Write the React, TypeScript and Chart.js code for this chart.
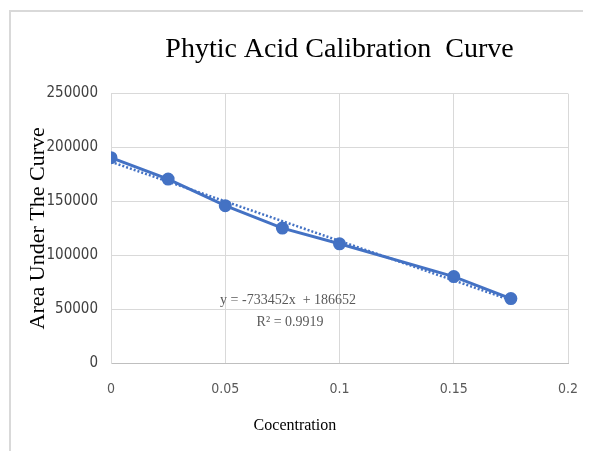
import { useEffect, useRef } from "react";
import { Chart, registerables } from "chart.js";

Chart.register(...registerables);

const concentrations = [0, 0.025, 0.05, 0.075, 0.1, 0.15, 0.175];
const areas = [190500, 170700, 146000, 125200, 110600, 80200, 59800];
const trendSlope = -733452;
const trendIntercept = 186652;
const rSquared = 0.9919;
const xTickValues = [0, 0.05, 0.1, 0.15, 0.2];
const yTickValues = [0, 50000, 100000, 150000, 200000, 250000];

const chartTitle = "Phytic Acid Calibration  Curve";
const xTitle = "Cocentration";
const yTitle = "Area Under The Curve";

const BLUE = "#4472C4";
const SERIF = "'Liberation Serif', 'Times New Roman', serif";
const NARROW = "'Liberation Sans Narrow', 'DejaVu Sans Condensed', 'Roboto', sans-serif";

const textPlugin = {
  id: "extraText",
  afterDatasetsDraw(chart: any) {
    const { ctx, scales } = chart;
    const cx = scales.x.getPixelForValue(0.0775);
    const cy = scales.y.getPixelForValue(58500);
    ctx.save();
    ctx.font = `14px ${SERIF}`;
    ctx.fillStyle = "#595959";
    ctx.textAlign = "center";
    ctx.textBaseline = "middle";
    const eq = `y = ${trendSlope}x  + ${trendIntercept}`;
    ctx.fillText(eq, cx, cy);
    ctx.fillText(`R² = ${rSquared}`, cx + 2, cy + 22);
    // x-axis title (placed left of centre, as in the original)
    ctx.font = `16px ${SERIF}`;
    ctx.fillStyle = "#000000";
    ctx.fillText(xTitle, scales.x.getPixelForValue(0.0805), scales.x.bottom - 25);
    ctx.restore();
  },
};

export default function App() {
  const canvasRef = useRef<HTMLCanvasElement | null>(null);

  useEffect(() => {
    if (!canvasRef.current) return;
    const xMin = concentrations[0];
    const xMax = concentrations[concentrations.length - 1];
    const trendData = [xMin, xMax].map((x) => ({ x, y: trendSlope * x + trendIntercept }));

    const chart = new Chart(canvasRef.current, {
      type: "scatter",
      data: {
        datasets: [
          {
            label: "Trendline",
            data: trendData,
            showLine: true,
            borderColor: BLUE,
            borderWidth: 2.5,
            borderDash: [2, 2],
            pointRadius: 0,
            order: 0,
          },
          {
            label: "Area",
            data: concentrations.map((x, i) => ({ x, y: areas[i] })),
            showLine: true,
            borderColor: BLUE,
            backgroundColor: BLUE,
            borderWidth: 3,
            pointRadius: 5,
            pointBackgroundColor: BLUE,
            pointBorderColor: BLUE,
            order: 1,
          },
        ],
      },
      options: {
        animation: false,
        responsive: false,
        maintainAspectRatio: false,
        layout: { padding: { left: 0, right: 15, top: 0, bottom: 0 } },
        plugins: {
          legend: { display: false },
          tooltip: { enabled: false },
          title: {
            display: true,
            fullSize: false,
            text: chartTitle,
            color: "#000000",
            font: { family: SERIF, size: 28, weight: "normal" },
            padding: { top: 25, bottom: 27 },
          },
        },
        scales: {
          x: {
            type: "linear",
            min: xTickValues[0],
            max: xTickValues[xTickValues.length - 1],
            afterBuildTicks: (scale: any) => {
              scale.ticks = xTickValues.map((value) => ({ value }));
            },
            afterFit: (scale: any) => {
              scale.height = 88;
            },
            ticks: {
              color: "#595959",
              font: { family: NARROW, size: 14 },
              padding: 4,
              callback: (v: any) => String(v),
            },
            grid: { color: "#d9d9d9", drawTicks: true, tickLength: 14, tickColor: "rgba(0,0,0,0)", lineWidth: 1 },
            border: { color: "#bfbfbf", width: 1 },
          },
          y: {
            type: "linear",
            min: yTickValues[0],
            max: yTickValues[yTickValues.length - 1],
            afterBuildTicks: (scale: any) => {
              scale.ticks = yTickValues.map((value) => ({ value }));
            },
            afterFit: (scale: any) => {
              scale.width = 103;
            },
            ticks: {
              color: "#404040",
              font: { family: NARROW, size: 15 },
              padding: 13,
              callback: (v: any) => String(v),
            },
            grid: { color: "#d9d9d9", drawTicks: false, lineWidth: 1 },
            border: { color: "#d9d9d9", width: 1 },
            title: {
              display: true,
              text: yTitle,
              color: "#000000",
              font: { family: SERIF, size: 22, weight: "normal" },
              padding: { top: 17, bottom: 0 },
            },
          },
        },
      },
      plugins: [textPlugin],
    });
    return () => chart.destroy();
  }, []);

  return (
    <div style={{ position: "relative", width: 575, height: 443, overflow: "hidden", background: "#ffffff" }}>
      <div
        style={{
          position: "absolute",
          left: 1,
          top: 2,
          width: 700,
          height: 600,
          border: "2px solid #d9d9d9",
          boxSizing: "border-box",
        }}
      />
      <canvas ref={canvasRef} width={575} height={443} style={{ position: "absolute", left: 0, top: 0, width: 575, height: 443 }} />
    </div>
  );
}
